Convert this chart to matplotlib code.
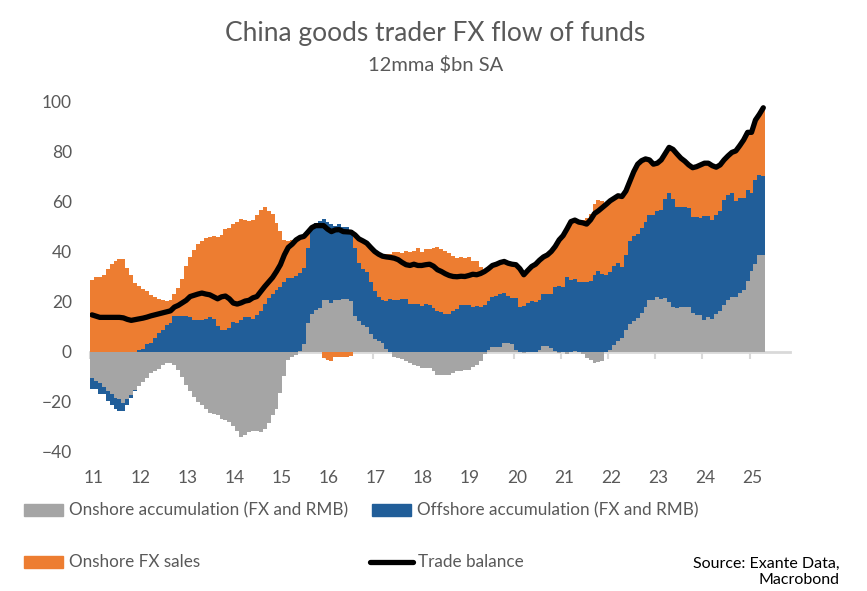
import numpy as np
import matplotlib
matplotlib.use("Agg")
import matplotlib.pyplot as plt
from matplotlib.patches import Rectangle
from matplotlib.lines import Line2D

plt.rcParams["font.family"] = ["Lato", "DejaVu Sans"]

# monthly, Jan 2011 .. Apr 2025, $bn (12mma SA)
year_labels = ["11", "12", "13", "14", "15", "16", "17", "18",
               "19", "20", "21", "22", "23", "24", "25"]

onshore = [
    -10.4, -11.8, -12.4, -13.9, -15.5, -16.9, -18.5, -18.7, -20.5, -18.7, -17.1, -15.1,
    -13.5, -12.1, -10.5, -8.6, -7.6, -6.8, -5.4, -4.5, -4.6, -5.4, -7.3, -10.1,
    -13.4, -15.8, -18.1, -20.1, -21.1, -22.7, -24.4, -24.8, -25.1, -26.7, -27.4, -28.0,
    -29.7, -31.7, -34.0, -33.1, -32.0, -31.7, -31.7, -32.0, -30.8, -28.3, -25.4, -22.8,
    -16.5, -9.6, -3.5, -2.1, -1.5, 0.3, 3.2, 11.4, 15.0, 16.7, 17.4, 20.5,
    20.5, 19.4, 20.8, 20.8, 21.1, 21.1, 20.1, 14.2, 12.1, 10.5, 10.0, 7.2,
    5.2, 4.1, 3.3, 1.2, 0.0, -2.0, -2.5, -3.1, -3.9, -4.6, -5.4, -5.8,
    -6.5, -6.3, -6.3, -7.6, -9.4, -9.4, -9.4, -9.4, -8.6, -7.8, -7.8, -7.2,
    -7.2, -6.2, -5.2, -3.6, -0.9, 0.7, 2.0, 2.0, 2.0, 3.3, 3.6, 3.1,
    0.7, 0.0, -0.5, 0.0, 0.0, 0.0, 0.7, 2.4, 2.4, 1.5, 0.4, -0.7,
    0.0, -0.9, 0.0, 0.4, 0.0, -1.0, -2.5, -3.2, -4.5, -4.1, -3.9, 0.0,
    0.8, 2.8, 4.4, 5.4, 8.8, 11.0, 12.4, 13.4, 15.4, 17.9, 20.7, 20.7,
    21.9, 21.1, 21.6, 19.8, 17.7, 17.4, 17.7, 17.7, 17.7, 15.4, 14.7, 14.7,
    12.7, 13.7, 13.1, 15.1, 16.3, 18.7, 20.7, 22.0, 22.0, 23.6, 24.7, 28.3,
    32.3, 35.1, 38.6, 38.6,
]

offshore = [
    -4.6, -3.2, -4.6, -3.1, -4.0, -4.3, -4.3, -5.1, -3.3, -2.4, -1.5, -0.4,
    0.7, 1.2, 2.9, 3.6, 5.4, 7.6, 8.8, 10.8, 11.6, 14.1, 14.3, 14.1,
    14.1, 13.8, 12.6, 12.6, 12.6, 13.1, 13.9, 13.0, 10.4, 8.8, 8.8, 9.6,
    11.8, 11.6, 12.6, 13.9, 13.9, 13.1, 14.7, 16.3, 19.0, 21.6, 23.1, 24.6,
    25.9, 27.8, 29.3, 29.3, 30.3, 31.2, 30.0, 30.0, 33.9, 34.6, 34.8, 32.4,
    31.4, 31.5, 29.2, 30.1, 28.6, 28.6, 28.5, 27.1, 23.2, 22.6, 21.7, 20.8,
    19.1, 17.9, 17.2, 18.9, 21.1, 20.5, 20.5, 21.1, 21.1, 19.0, 19.0, 19.0,
    18.1, 19.0, 18.5, 17.4, 16.3, 15.8, 15.1, 15.1, 16.3, 17.1, 18.5, 18.7,
    18.7, 17.7, 18.2, 17.7, 18.7, 19.6, 19.9, 20.2, 21.1, 20.2, 18.7, 18.5,
    20.9, 17.7, 18.1, 19.5, 20.1, 19.7, 20.0, 20.7, 20.5, 21.4, 25.4, 26.2,
    25.9, 29.9, 28.6, 28.7, 27.8, 27.8, 27.9, 28.3, 30.7, 32.3, 31.1, 30.7,
    30.9, 31.5, 30.9, 28.3, 29.7, 33.0, 33.9, 33.6, 34.0, 33.9, 33.9, 33.9,
    34.4, 35.5, 39.2, 43.4, 43.1, 40.4, 40.1, 40.1, 39.8, 38.4, 39.1, 38.8,
    41.5, 40.5, 39.5, 39.5, 39.9, 41.9, 41.8, 41.2, 38.2, 37.6, 36.5, 36.1,
    31.2, 33.3, 31.9, 31.3,
]

fx_sales = [
    28.7, 29.9, 29.9, 30.7, 33.1, 35.1, 36.3, 37.1, 37.1, 33.5, 30.7, 27.4,
    25.5, 23.9, 21.4, 19.0, 16.5, 13.6, 11.8, 9.5, 9.1, 9.0, 11.2, 15.0,
    20.2, 24.0, 27.8, 30.4, 31.6, 32.2, 31.9, 33.1, 35.4, 37.8, 40.3, 39.9,
    39.1, 40.2, 40.4, 38.7, 38.4, 39.5, 39.8, 40.2, 38.6, 34.6, 31.7, 26.7,
    22.3, 16.8, 14.7, 15.3, 14.7, 14.1, 12.8, 6.1, 0.6, 0.0, 0.0, -2.5,
    -3.5, -3.9, -2.0, -2.3, -2.0, -2.3, -1.7, 5.3, 10.0, 11.1, 11.6, 13.6,
    15.7, 17.3, 18.4, 18.8, 17.9, 19.2, 19.2, 18.3, 18.9, 20.7, 21.0, 22.3,
    21.6, 22.0, 22.5, 23.9, 25.4, 25.2, 25.1, 24.1, 21.8, 20.2, 19.3, 18.8,
    19.0, 18.3, 17.8, 15.9, 13.3, 12.8, 12.5, 12.7, 12.5, 12.5, 13.0, 13.3,
    13.1, 15.4, 12.6, 12.9, 13.9, 15.2, 15.8, 14.7, 15.7, 17.1, 16.2, 18.4,
    20.4, 19.1, 23.3, 23.4, 24.7, 24.7, 25.4, 26.7, 28.1, 28.1, 29.1, 28.8,
    28.5, 26.9, 26.9, 28.2, 25.6, 23.9, 25.5, 27.8, 26.8, 25.1, 21.9, 20.2,
    18.9, 19.9, 18.2, 18.3, 19.9, 21.1, 19.4, 18.2, 17.0, 19.6, 20.0, 21.0,
    21.0, 21.0, 21.6, 19.0, 18.3, 15.9, 15.6, 16.3, 19.9, 21.0, 23.3, 23.1,
    24.0, 23.6, 24.0, 26.6,
]

trade_balance = [
    14.7, 14.2, 13.7, 13.7, 13.7, 13.7, 13.7, 13.7, 13.5, 12.9, 12.5, 12.8,
    13.1, 13.4, 13.8, 14.3, 14.7, 15.1, 15.5, 15.9, 16.3, 17.8, 18.5, 19.5,
    20.5, 22.0, 22.5, 23.0, 23.4, 23.0, 22.7, 21.9, 21.1, 21.9, 22.2, 21.1,
    19.4, 19.0, 19.5, 20.2, 20.5, 21.5, 22.0, 24.0, 26.0, 27.8, 29.6, 32.0,
    34.7, 38.6, 41.6, 42.9, 44.6, 45.6, 46.0, 47.7, 49.5, 50.3, 50.3, 50.3,
    48.9, 47.9, 48.6, 48.7, 47.9, 47.8, 47.7, 46.6, 45.0, 44.2, 43.3, 41.6,
    40.0, 38.9, 38.1, 37.8, 37.6, 37.3, 36.7, 35.6, 34.7, 34.4, 34.9, 34.4,
    34.4, 34.7, 34.9, 34.1, 32.7, 32.0, 31.1, 30.4, 30.0, 29.9, 30.1, 30.0,
    30.4, 30.9, 30.7, 31.2, 32.0, 33.1, 34.4, 34.9, 35.6, 36.0, 35.3, 34.9,
    34.7, 33.1, 30.7, 32.4, 34.0, 34.9, 36.5, 37.8, 38.6, 40.0, 42.0, 44.6,
    46.3, 49.0, 51.9, 52.5, 51.7, 51.4, 50.9, 52.6, 55.1, 56.2, 57.5, 58.8,
    60.2, 61.2, 62.2, 61.9, 64.1, 67.9, 71.8, 74.8, 76.2, 76.9, 76.5, 74.8,
    75.2, 76.5, 79.0, 81.5, 80.7, 78.9, 77.2, 76.0, 74.5, 73.4, 73.8, 74.5,
    75.2, 75.2, 74.2, 73.6, 74.5, 76.5, 78.1, 79.5, 80.1, 82.2, 84.5, 87.5,
    87.5, 92.4, 94.7, 97.3,
]

GRAY = "#a5a5a5"
BLUE = "#215e99"
ORANGE = "#ed7d31"
TXT = "#595959"
AXIS = "#d9d9d9"

W, H = 867, 591
fig = plt.figure(figsize=(W / 100, H / 100), dpi=100)
ax = fig.add_axes([90 / W, 1 - 452 / H, 700 / W, 351 / H])

n = len(trade_balance)
x = np.arange(n)
edges = np.arange(n + 1)

# stacked columns (positives stack up from 0, negatives stack down from 0)
pos_base = np.zeros(n)
neg_base = np.zeros(n)
for vals, col in [(onshore, GRAY), (offshore, BLUE), (fx_sales, ORANGE)]:
    v = np.array(vals)
    base = np.where(v >= 0, pos_base, neg_base)
    ax.stairs(base + v, edges, baseline=base, fill=True, color=col,
              linewidth=0, zorder=2)
    pos_base = pos_base + np.clip(v, 0, None)
    neg_base = neg_base + np.clip(v, None, 0)

ax.plot(x + 0.5, trade_balance, color="black", linewidth=3.8,
        solid_joinstyle="round", solid_capstyle="round", zorder=4)

ax.set_xlim(0, 178.3)
ax.set_ylim(-40, 100)
for s in ax.spines.values():
    s.set_visible(False)

# axis line at zero with year tick marks
year_pos = np.arange(len(year_labels)) * 12
zero_ax = ax.secondary_xaxis(40 / 140)
zero_ax.set_xticks(year_pos)
zero_ax.tick_params(axis="x", length=5, width=1.5, color=AXIS,
                    labelbottom=False, direction="out")
zero_ax.spines["bottom"].set_color(AXIS)
zero_ax.spines["bottom"].set_linewidth(2)

ax.set_xticks(year_pos + 0.8)
ax.set_xticklabels(year_labels)
ax.tick_params(axis="x", length=0, pad=13, labelsize=12.5, labelcolor=TXT)
ax.set_yticks(np.arange(-40, 101, 20))
ax.tick_params(axis="y", length=0, pad=13, labelsize=12.5, labelcolor=TXT)

fig.text(435 / W, 1 - 34 / H, "China goods trader FX flow of funds",
         ha="center", va="center", fontsize=19, color=TXT)
fig.text(436 / W, 1 - 65 / H, "12mma $bn SA",
         ha="center", va="center", fontsize=14.5, color=TXT)

# legend
def leg_patch(x0, y0, col, label):
    fig.patches.append(Rectangle((x0 / W, 1 - (y0 + 6) / H), 39 / W, 12 / H,
                                 transform=fig.transFigure, color=col))
    fig.text((x0 + 45) / W, 1 - y0 / H, label, ha="left", va="center",
             fontsize=12.3, color=TXT)

leg_patch(24, 510, GRAY, "Onshore accumulation (FX and RMB)")
leg_patch(372, 510, BLUE, "Offshore accumulation (FX and RMB)")
leg_patch(24, 562, ORANGE, "Onshore FX sales")
fig.lines.append(Line2D([370 / W, 413 / W], [1 - 562 / H, 1 - 562 / H],
                        transform=fig.transFigure, color="black",
                        linewidth=3.8, solid_capstyle="round"))
fig.text(418 / W, 1 - 562 / H, "Trade balance", ha="left", va="center",
         fontsize=12.3, color=TXT)

fig.text(840 / W, 1 - 572 / H, "Source: Exante Data,\nMacrobond",
         ha="right", va="center", fontsize=11.5, color="black",
         multialignment="right", linespacing=1.25)

fig.savefig("out.png", dpi=100)
